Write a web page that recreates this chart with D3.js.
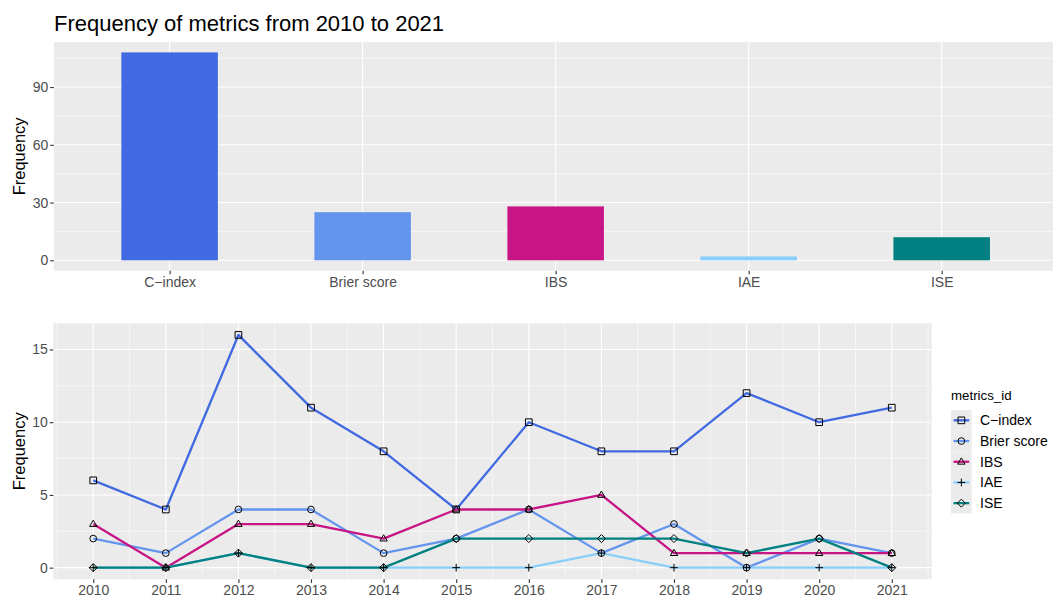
<!DOCTYPE html>
<html>
<head>
<meta charset="utf-8">
<script src="https://cdn.jsdelivr.net/npm/d3@7"></script>
<style>
  html, body { margin: 0; padding: 0; background: #fff; }
  svg { display: block; font-family: "Liberation Sans", Arial, sans-serif; }
</style>
</head>
<body>
<svg id="chart" width="1053" height="599"></svg>
<script>
// ---- data ----
const metrics = ["C\u2212index", "Brier score", "IBS", "IAE", "ISE"];
const metricColors = ["#4169E1", "#6495ED", "#C71585", "#87CEFA", "#008080"];
const metricShapes = ["square", "circle", "triangle", "plus", "diamond"];
const years = [2010, 2011, 2012, 2013, 2014, 2015, 2016, 2017, 2018, 2019, 2020, 2021];

const cIndex     = [6, 4, 16, 11, 8, 4, 10, 8, 8, 12, 10, 11];
const brierScore = [2, 1, 4, 4, 1, 2, 4, 1, 3, 0, 2, 1];
const ibs        = [3, 0, 3, 3, 2, 4, 4, 5, 1, 1, 1, 1];
const iae        = [0, 0, 1, 0, 0, 0, 0, 1, 0, 0, 0, 0];
const ise        = [0, 0, 1, 0, 0, 2, 2, 2, 2, 1, 2, 0];
const yearlySeries = [cIndex, brierScore, ibs, iae, ise];

// totals per metric over the whole period
const totals = yearlySeries.map(s => d3.sum(s));

const topTicks = [0, 30, 60, 90];
const bottomTicks = [0, 5, 10, 15];

// ---- helpers ----
const W = 1053;
const svg = d3.select("#chart");
const panelBg = "#EBEBEB";
const tickTextColor = "#4D4D4D";
const tickColor = "#333333";
const tickFont = 14;

function symbolPath(shape, size) {
  const r = size / 2;
  switch (shape) {
    case "square":   return `M${-r},${-r}H${r}V${r}H${-r}Z`;
    case "circle":   return d3.arc()({innerRadius: 0, outerRadius: r, startAngle: 0, endAngle: 2 * Math.PI});
    case "triangle": { const h = r * 1.15; return `M0,${-h}L${h * 0.95},${h * 0.62}L${-h * 0.95},${h * 0.62}Z`; }
    case "plus":     { const p = r * 1.15; return `M${-p},0H${p}M0,${-p}V${p}`; }
    case "diamond":  { const d = r * 1.2; return `M0,${-d}L${d},0L0,${d}L${-d},0Z`; }
  }
}

function drawMarker(g, shape, x, y) {
  g.append("path")
    .attr("d", symbolPath(shape, 6.7))
    .attr("transform", `translate(${x},${y})`)
    .attr("fill", "none")
    .attr("stroke", "#000")
    .attr("stroke-width", 1);
}

function styleAxis(g) {
  g.select(".domain").remove();
  g.selectAll(".tick line").attr("stroke", tickColor).attr("stroke-width", 1.1);
  g.selectAll(".tick text").attr("fill", tickTextColor).attr("font-size", tickFont)
    .attr("font-family", "Liberation Sans, Arial, sans-serif");
}

// ---- top panel: totals bar chart ----
// the panel runs slightly past the right edge of the drawing
const barPanel = { left: 53.8, right: 1057.5, top: 42, bottom: 270.7 };

const xBand = d3.scalePoint().domain(metrics).range([barPanel.left, barPanel.right]).padding(0.6);
const barW = xBand.step() * 0.5;
const yTop = d3.scaleLinear().domain([-5.4, 113.4]).range([barPanel.bottom, barPanel.top]);

svg.append("text")
  .attr("x", 54).attr("y", 31.3)
  .attr("font-size", 22).attr("fill", "#000")
  .text("Frequency of metrics from 2010 to 2021");

const gTop = svg.append("g");
gTop.append("rect")
  .attr("x", barPanel.left).attr("y", barPanel.top)
  .attr("width", W - barPanel.left).attr("height", barPanel.bottom - barPanel.top)
  .attr("fill", panelBg);

// minor horizontal grid
[15, 45, 75, 105].forEach(v => {
  gTop.append("line").attr("x1", barPanel.left).attr("x2", W)
    .attr("y1", yTop(v)).attr("y2", yTop(v))
    .attr("stroke", "#fff").attr("stroke-width", 0.55);
});
// major grid
topTicks.forEach(v => {
  gTop.append("line").attr("x1", barPanel.left).attr("x2", W)
    .attr("y1", yTop(v)).attr("y2", yTop(v))
    .attr("stroke", "#fff").attr("stroke-width", 1.1);
});
metrics.forEach(m => {
  gTop.append("line").attr("x1", xBand(m)).attr("x2", xBand(m))
    .attr("y1", barPanel.top).attr("y2", barPanel.bottom)
    .attr("stroke", "#fff").attr("stroke-width", 1.1);
});

// bars
gTop.selectAll("rect.bar").data(metrics).join("rect")
  .attr("class", "bar")
  .attr("x", m => xBand(m) - barW / 2)
  .attr("width", barW)
  .attr("y", (m, i) => yTop(totals[i]))
  .attr("height", (m, i) => yTop(0) - yTop(totals[i]))
  .attr("fill", (m, i) => metricColors[i]);

// axes
const yAxisTop = d3.axisLeft(yTop).tickValues(topTicks).tickSize(3.6).tickPadding(2);
styleAxis(svg.append("g").attr("transform", `translate(${barPanel.left},0)`).call(yAxisTop));
const xAxisTop = d3.axisBottom(xBand).tickSize(3.6).tickPadding(2.5);
styleAxis(svg.append("g").attr("transform", `translate(0,${barPanel.bottom})`).call(xAxisTop));

svg.append("text")
  .attr("transform", `translate(24.5,${(barPanel.top + barPanel.bottom) / 2}) rotate(-90)`)
  .attr("text-anchor", "middle").attr("font-size", 16.5).attr("fill", "#000")
  .text("Frequency");

// ---- bottom panel: yearly lines ----
const linePanel = { left: 53.3, right: 931.7, top: 323.3, bottom: 579.3 };
const xYear = d3.scaleLinear().domain([2009.45, 2021.55]).range([linePanel.left, linePanel.right]);
const yBot = d3.scaleLinear().domain([-0.8, 16.8]).range([linePanel.bottom, linePanel.top]);

const gBot = svg.append("g");
gBot.append("rect")
  .attr("x", linePanel.left).attr("y", linePanel.top)
  .attr("width", linePanel.right - linePanel.left).attr("height", linePanel.bottom - linePanel.top)
  .attr("fill", panelBg);

[2.5, 7.5, 12.5].forEach(v => {
  gBot.append("line").attr("x1", linePanel.left).attr("x2", linePanel.right)
    .attr("y1", yBot(v)).attr("y2", yBot(v))
    .attr("stroke", "#fff").attr("stroke-width", 0.55);
});
[2009].concat(years).forEach(yr => {
  const v = yr + 0.5;
  gBot.append("line").attr("x1", xYear(v)).attr("x2", xYear(v))
    .attr("y1", linePanel.top).attr("y2", linePanel.bottom)
    .attr("stroke", "#fff").attr("stroke-width", 0.55);
});
bottomTicks.forEach(v => {
  gBot.append("line").attr("x1", linePanel.left).attr("x2", linePanel.right)
    .attr("y1", yBot(v)).attr("y2", yBot(v))
    .attr("stroke", "#fff").attr("stroke-width", 1.1);
});
years.forEach(yr => {
  gBot.append("line").attr("x1", xYear(yr)).attr("x2", xYear(yr))
    .attr("y1", linePanel.top).attr("y2", linePanel.bottom)
    .attr("stroke", "#fff").attr("stroke-width", 1.1);
});

const line = d3.line().x((d, i) => xYear(years[i])).y(d => yBot(d));
yearlySeries.forEach((s, k) => {
  gBot.append("path")
    .datum(s)
    .attr("d", line)
    .attr("fill", "none")
    .attr("stroke", metricColors[k])
    .attr("stroke-width", 2.3)
    .attr("stroke-linejoin", "round");
});
yearlySeries.forEach((s, k) => {
  s.forEach((v, i) => drawMarker(gBot, metricShapes[k], xYear(years[i]), yBot(v)));
});

const yAxisBot = d3.axisLeft(yBot).tickValues(bottomTicks).tickSize(3.6).tickPadding(2);
styleAxis(svg.append("g").attr("transform", `translate(${linePanel.left},0)`).call(yAxisBot));
const xAxisBot = d3.axisBottom(xYear).tickValues(years).tickFormat(d3.format("d")).tickSize(3.6).tickPadding(2.5);
styleAxis(svg.append("g").attr("transform", `translate(0,${linePanel.bottom})`).call(xAxisBot));

svg.append("text")
  .attr("transform", `translate(24.5,${(linePanel.top + linePanel.bottom) / 2}) rotate(-90)`)
  .attr("text-anchor", "middle").attr("font-size", 16.5).attr("fill", "#000")
  .text("Frequency");

// ---- legend ----
const leg = svg.append("g").attr("transform", "translate(951,0)");
leg.append("text").attr("x", 0).attr("y", 400)
  .attr("font-size", 13.3).attr("fill", "#000").text("metrics_id");
const keySize = 20.7, keyTop = 410;
metrics.forEach((m, k) => {
  const y0 = keyTop + k * keySize;
  const cy = y0 + keySize / 2;
  leg.append("rect").attr("x", 0).attr("y", y0).attr("width", keySize).attr("height", keySize)
    .attr("fill", panelBg);
  leg.append("line").attr("x1", 2.5).attr("x2", keySize - 2.5).attr("y1", cy).attr("y2", cy)
    .attr("stroke", metricColors[k]).attr("stroke-width", 2.3);
  drawMarker(leg, metricShapes[k], keySize / 2, cy);
  leg.append("text").attr("x", 29).attr("y", cy + 5)
    .attr("font-size", 14).attr("fill", "#000").text(m);
});
</script>
</body>
</html>
